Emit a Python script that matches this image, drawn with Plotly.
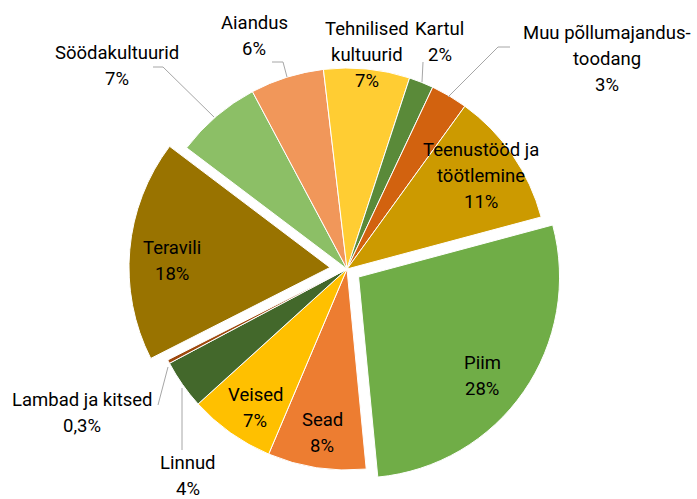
import plotly.graph_objects as go

# ---- data (clockwise order starting with Piim) ----
labels = ["Piim", "Sead", "Veised", "Linnud", "Lambad ja kitsed", "Teravili",
          "Söödakultuurid", "Aiandus", "Tehnilised kultuurid", "Kartul",
          "Muu põllumajandustoodang", "Teenustööd ja töötlemine"]
label_lines = [["Piim"], ["Sead"], ["Veised"], ["Linnud"], ["Lambad ja kitsed"], ["Teravili"],
               ["Söödakultuurid"], ["Aiandus"], ["Tehnilised", "kultuurid"], ["Kartul"],
               ["Muu põllumajandus-", "toodang"], ["Teenustööd ja", "töötlemine"]]
values = [28, 8, 7, 4, 0.3, 18, 7, 6, 7, 2, 3, 11]

# ---- styles ----
colors = ["#70AD47", "#ED7D31", "#FFC000", "#43682B", "#9E480E", "#997300",
          "#8CBF66", "#F1975A", "#FFCD33", "#5A8A39", "#D2620F", "#CC9A00"]
pulls = [0.07, 0, 0, 0, 0, 0.085, 0, 0, 0, 0, 0, 0]

W, H = 697, 499
def px(x):
    return x / W
def py(y):
    return 1 - y / H

# pie box: center (347, 269), radius ~201 with max pull 0.085
cx, cy, r = 347, 269, 201
half = r * (1 + max(pulls))
dom_x = [px(cx - half), px(cx + half)]
dom_y = [py(cy + half), py(cy - half)]

fig = go.Figure(go.Pie(
    labels=labels, values=values, sort=False, direction="clockwise",
    rotation=75, pull=pulls,
    marker=dict(colors=colors, line=dict(color="white", width=1)),
    textinfo="none", hoverinfo="label+value",
    domain=dict(x=dom_x, y=dom_y),
    showlegend=False,
))

# label positions (pixel center of first line)
label_pos = [(482, 363), (322, 420), (255, 395), (188, 463), (82, 400), (172, 248),
             (117, 53), (254, 23), (367, 29), (440, 29), (607, 33), (481, 150)]
line_gap = 26
font = dict(family="Roboto, Arial, sans-serif", size=18.5, color="#000000")

def pct_text(v):
    s = f"{v:g}".replace(".", ",")
    return s + "%"

annotations = []
for lines, v, (x0, y0) in zip(label_lines, values, label_pos):
    all_lines = lines + [pct_text(v)]
    for k, t in enumerate(all_lines):
        annotations.append(dict(
            x=px(x0), y=py(y0 + k * line_gap), xref="paper", yref="paper",
            text=t, showarrow=False, xanchor="center", yanchor="middle", font=font))

# leader lines (pixel polylines)
leaders = [
    [(153, 67), (163, 67), (214, 117)],
    [(272, 62), (283, 62), (287, 77)],
    [(423, 62), (422, 82)],
    [(510, 47), (498, 47), (448, 97)],
    [(158, 405), (168, 367)],
    [(182, 450), (182, 388)],
]
shapes = []
for pts in leaders:
    for (x1, y1), (x2, y2) in zip(pts[:-1], pts[1:]):
        shapes.append(dict(type="line", xref="paper", yref="paper",
                           x0=px(x1), y0=py(y1), x1=px(x2), y1=py(y2),
                           line=dict(color="#A6A6A6", width=1)))

fig.update_layout(
    width=W, height=H, margin=dict(l=0, r=0, t=0, b=0),
    paper_bgcolor="white", plot_bgcolor="white",
    annotations=annotations, shapes=shapes,
)

fig.write_html("out.html", config={"displayModeBar": False},
               post_script="document.body.style.margin='0';")
